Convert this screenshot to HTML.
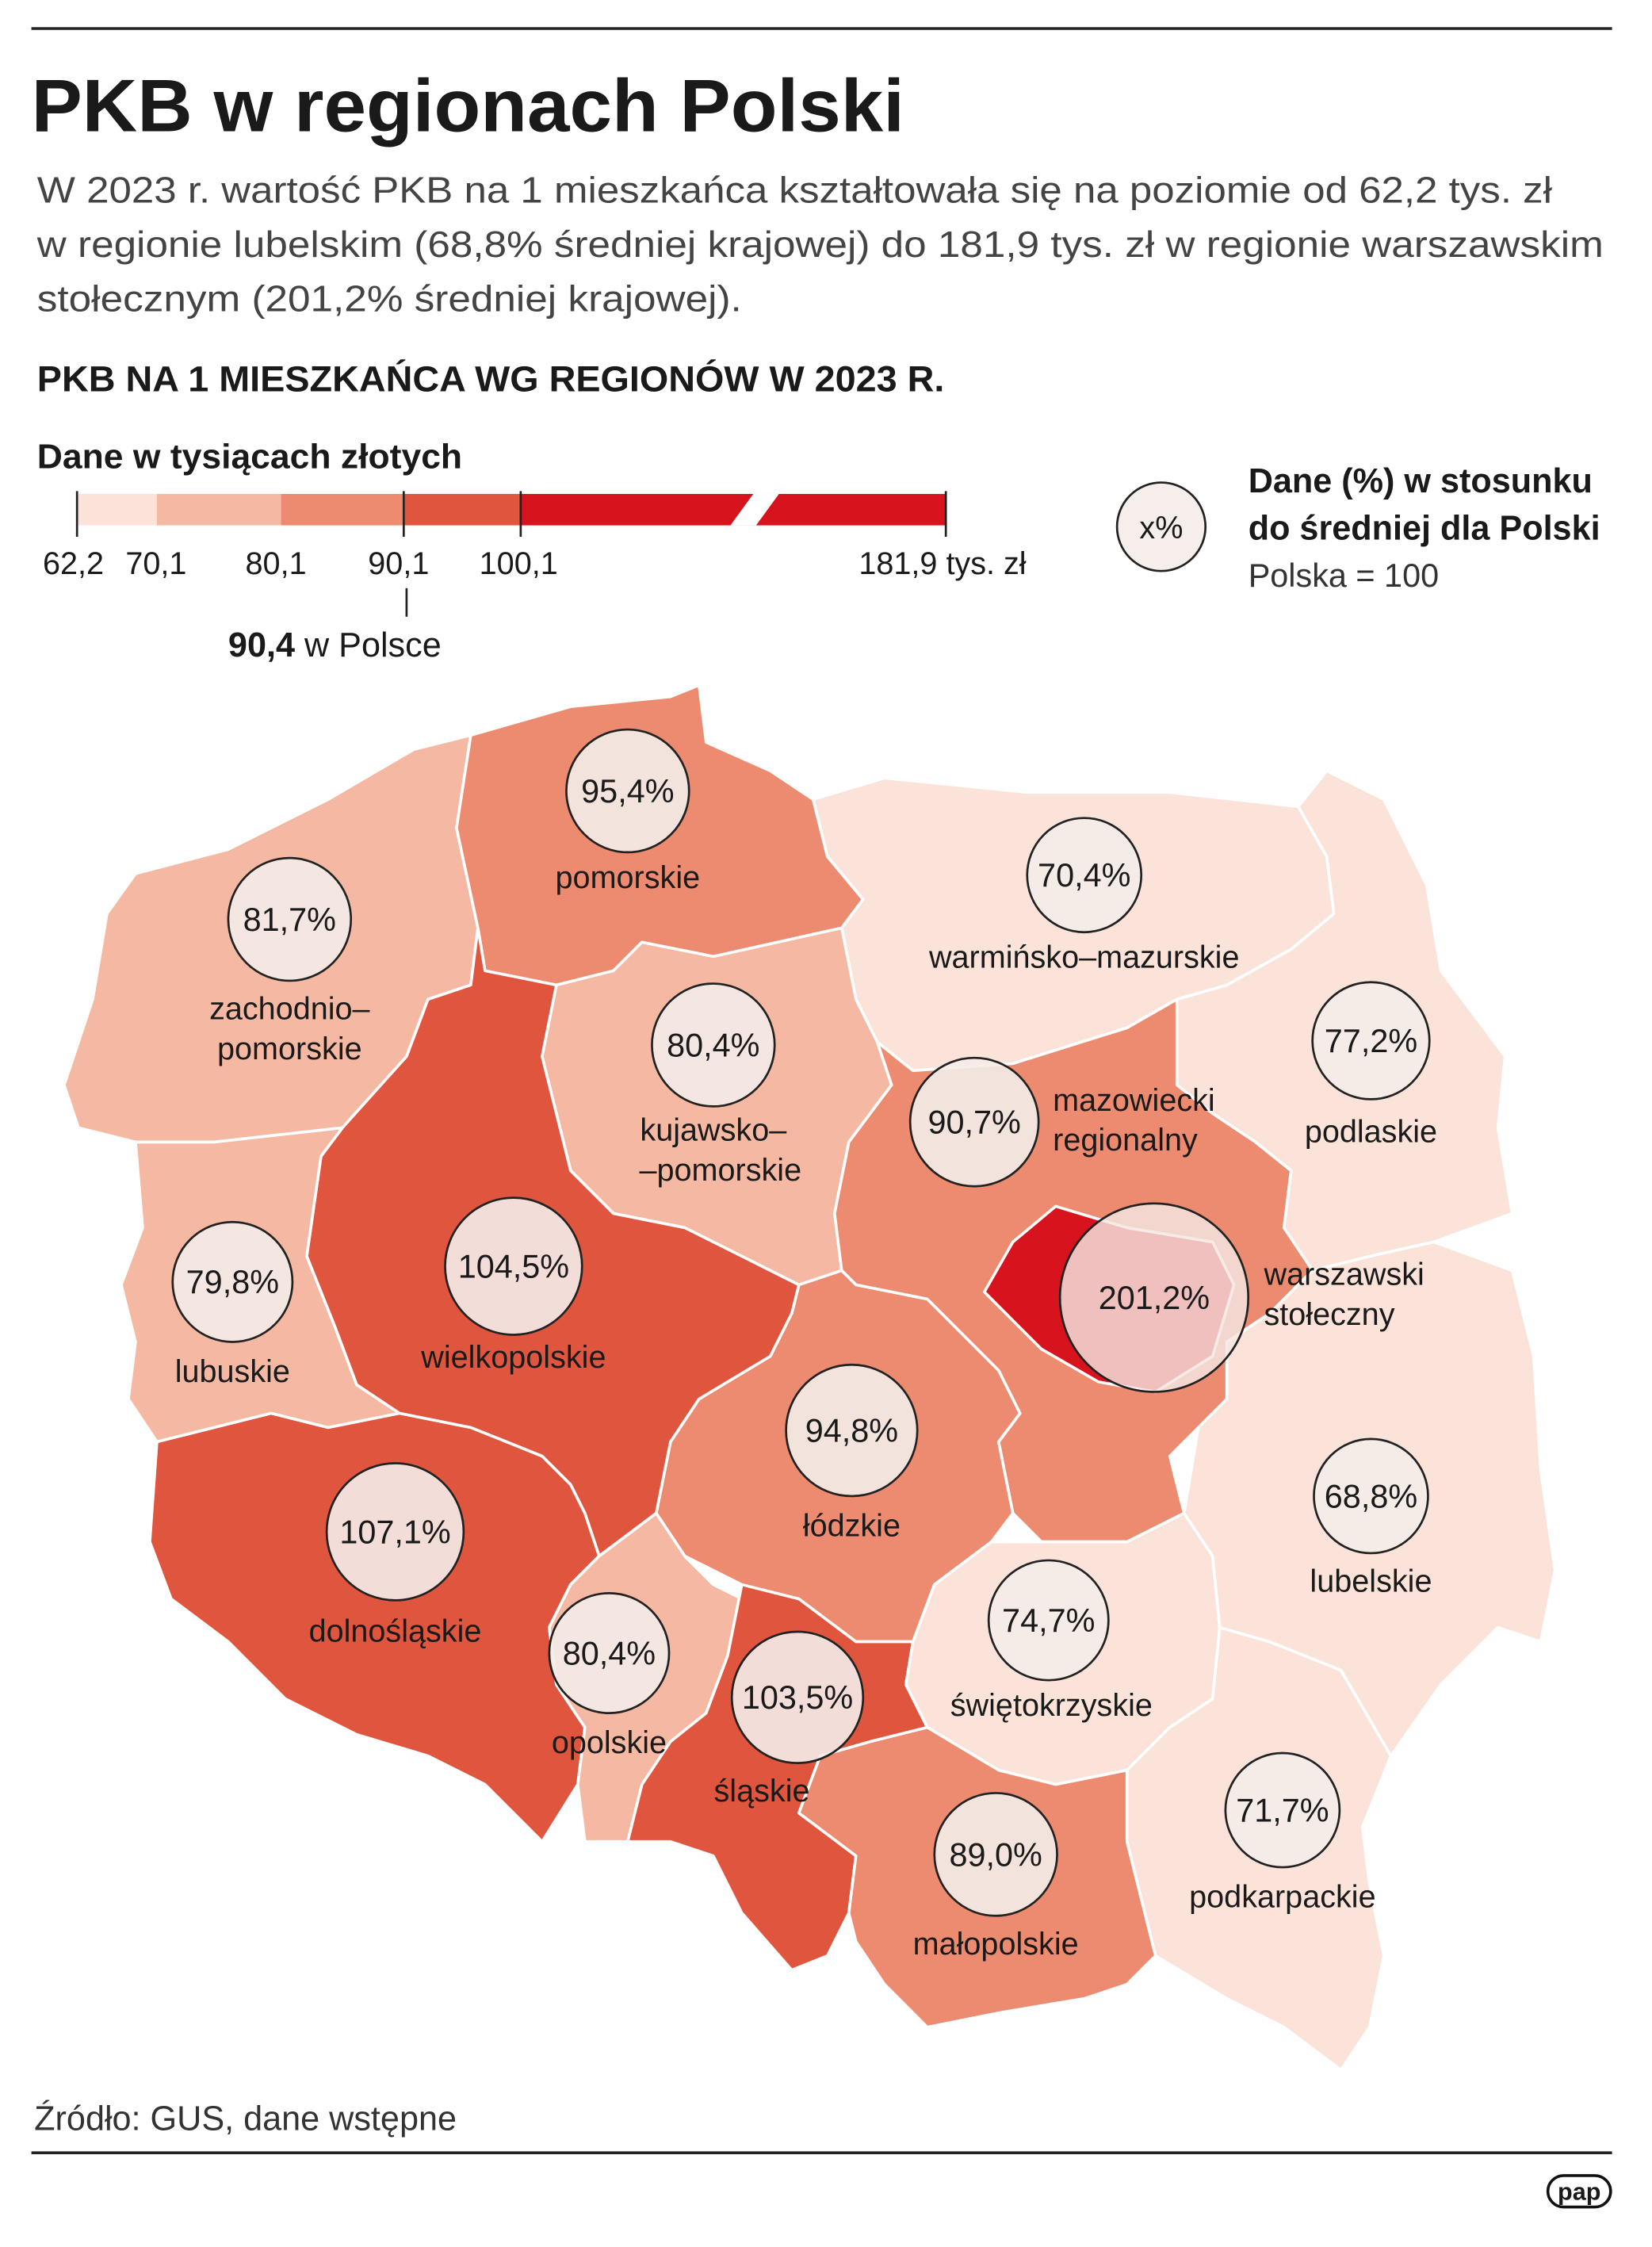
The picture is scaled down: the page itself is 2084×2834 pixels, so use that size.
<!DOCTYPE html>
<html><head><meta charset="utf-8"><style>
html,body{margin:0;padding:0;background:#fff}
svg{display:block}
text{font-family:"Liberation Sans",sans-serif;fill:#1a1a1a}
.r{stroke:#fff;stroke-width:2;stroke-linejoin:round}
.c{fill:rgba(244,236,233,0.9);stroke:#222;stroke-width:1.5}
.p{font-size:23px;text-anchor:middle}
.n{font-size:22px;text-anchor:middle}
</style></head><body>
<svg width="2084" height="2834" viewBox="0 0 1158 1574" preserveAspectRatio="none" xmlns="http://www.w3.org/2000/svg">
<rect width="1158" height="1574" fill="#fff"/>
<line x1="22" y1="20" x2="1130" y2="20" stroke="#222" stroke-width="2"/>
<text x="22" y="92" font-size="52" font-weight="bold" textLength="612" lengthAdjust="spacingAndGlyphs">PKB w regionach Polski</text>
<text x="26" y="142" font-size="26" textLength="1062" lengthAdjust="spacingAndGlyphs" style="fill:#444">W 2023 r. wartość PKB na 1 mieszkańca kształtowała się na poziomie od 62,2 tys. zł</text>
<text x="26" y="180" font-size="26" textLength="1098" lengthAdjust="spacingAndGlyphs" style="fill:#444">w regionie lubelskim (68,8% średniej krajowej) do 181,9 tys. zł w regionie warszawskim</text>
<text x="26" y="218" font-size="26" textLength="494" lengthAdjust="spacingAndGlyphs" style="fill:#444">stołecznym (201,2% średniej krajowej).</text>
<text x="26" y="274" font-size="25" font-weight="bold" textLength="636" lengthAdjust="spacingAndGlyphs">PKB NA 1 MIESZKAŃCA WG REGIONÓW W 2023 R.</text>
<text x="26" y="328" font-size="24" font-weight="bold" textLength="298" lengthAdjust="spacingAndGlyphs">Dane w tysiącach złotych</text>
<rect x="54" y="346" width="56" height="22" fill="#fbe3da"/>
<rect x="110" y="346" width="87" height="22" fill="#f5b9a3"/>
<rect x="197" y="346" width="86" height="22" fill="#ec8b6f"/>
<rect x="283" y="346" width="82" height="22" fill="#e0553e"/>
<rect x="365" y="346" width="298" height="22" fill="#d7141e"/>
<polygon points="512,368 528,346 546,346 530,368" fill="#fff"/>
<g stroke="#222" stroke-width="1.5">
<line x1="54" y1="344" x2="54" y2="376"/><line x1="283" y1="344" x2="283" y2="376"/><line x1="365" y1="344" x2="365" y2="376"/><line x1="663" y1="344" x2="663" y2="376"/><line x1="285" y1="412" x2="285" y2="432"/>
</g>
<g font-size="22" style="fill:#333">
<text x="30" y="402">62,2</text><text x="88" y="402">70,1</text><text x="172" y="402">80,1</text><text x="258" y="402">90,1</text><text x="336" y="402">100,1</text><text x="602" y="402">181,9 tys. zł</text>
</g>
<text x="160" y="460" font-size="24"><tspan font-weight="bold">90,4</tspan><tspan> w Polsce</tspan></text>
<circle cx="814" cy="369" r="31" class="c"/>
<text x="814" y="377" class="n">x%</text>
<text x="875" y="345" font-size="24" font-weight="bold">Dane (%) w stosunku</text>
<text x="875" y="378" font-size="24" font-weight="bold">do średniej dla Polski</text>
<text x="875" y="411" font-size="23" style="fill:#333">Polska = 100</text>
<g class="r">
<polygon fill="#f5b9a3" points="95,612 160,595 230,560 290,525 330,515 320,580 335,650 330,690 300,700 285,740 240,790 150,800 95,800 55,790 45,760 65,700 75,640"/>
<polygon fill="#ec8b6f" points="330,515 400,495 470,488 490,480 495,520 540,540 570,560 580,600 605,630 590,650 545,660 500,670 450,660 430,680 390,690 340,680 335,650 320,580"/>
<polygon fill="#fbe3da" points="570,560 620,545 720,555 820,555 910,565 930,600 935,640 905,665 860,690 825,700 790,720 710,745 640,750 615,730 600,700 590,650 605,630 580,600"/>
<polygon fill="#fbe3da" points="910,565 930,540 970,560 1000,620 1010,680 1055,740 1050,790 1060,850 1005,870 960,880 920,890 900,860 905,820 880,800 850,780 825,760 825,700 860,690 905,665 935,640 930,600"/>
<polygon fill="#f5b9a3" points="390,690 430,680 450,660 500,670 545,660 590,650 600,700 615,730 625,760 595,800 585,850 590,890 560,900 520,880 480,860 430,850 400,820 385,760 380,740"/>
<polygon fill="#ec8b6f" points="615,730 640,750 710,745 790,720 825,700 825,760 850,780 880,800 905,820 900,860 920,890 890,920 860,940 860,980 840,1000 820,1020 830,1060 790,1080 730,1080 710,1060 700,1010 715,990 700,960 680,940 650,910 600,900 590,890 585,850 595,800 625,760"/>
<polygon fill="#ec8b6f" points="590,890 600,900 650,910 680,940 700,960 715,990 700,1010 710,1060 695,1080 655,1110 640,1150 600,1150 560,1120 520,1110 480,1090 460,1060 470,1010 490,980 540,950 555,920 560,900"/>
<polygon fill="#e0553e" points="300,700 330,690 335,650 340,680 390,690 380,740 385,760 400,820 430,850 480,860 520,880 560,900 555,920 540,950 490,980 470,1010 460,1060 420,1090 410,1060 400,1040 380,1020 330,1000 280,990 250,970 235,930 215,880 225,810 240,790 285,740"/>
<polygon fill="#f5b9a3" points="95,800 150,800 240,790 225,810 215,880 235,930 250,970 280,990 230,1000 190,990 150,1000 110,1010 90,980 95,940 85,900 100,860"/>
<polygon fill="#e0553e" points="110,1010 150,1000 190,990 230,1000 280,990 330,1000 380,1020 400,1040 410,1060 420,1090 400,1110 385,1140 390,1180 410,1210 405,1250 380,1290 340,1250 300,1230 250,1215 200,1190 160,1150 120,1120 105,1080"/>
<polygon fill="#f5b9a3" points="400,1110 420,1090 460,1060 480,1090 500,1110 520,1120 510,1160 495,1200 470,1220 450,1250 440,1290 410,1290 405,1250 410,1210 390,1180 385,1140"/>
<polygon fill="#e0553e" points="520,1110 560,1120 600,1150 640,1150 635,1180 650,1210 610,1220 575,1230 560,1270 600,1300 595,1340 580,1370 555,1380 520,1340 500,1300 470,1290 440,1290 450,1250 470,1220 495,1200 510,1160"/>
<polygon fill="#fbe3da" points="640,1150 655,1110 695,1080 730,1080 790,1080 830,1060 850,1090 855,1140 850,1190 820,1210 790,1240 740,1250 700,1240 650,1210 635,1180"/>
<polygon fill="#ec8b6f" points="575,1230 610,1220 650,1210 700,1240 740,1250 790,1240 790,1290 800,1330 810,1370 790,1390 760,1400 700,1410 650,1420 620,1390 600,1360 595,1340 600,1300 560,1270"/>
<polygon fill="#fbe3da" points="790,1240 820,1210 850,1190 855,1140 890,1150 940,1170 975,1230 955,1280 960,1320 970,1370 960,1420 940,1450 900,1420 860,1400 810,1370 800,1330 790,1290"/>
<polygon fill="#fbe3da" points="830,1060 840,1000 860,980 860,940 890,920 920,890 960,880 1005,870 1060,890 1075,950 1080,1030 1090,1100 1080,1150 1050,1140 1010,1180 975,1230 940,1170 890,1150 855,1140 850,1090"/>
<polygon fill="#d7141e" points="690,905 710,870 740,845 790,860 850,870 865,900 850,950 810,975 770,968 730,945 710,925"/>
</g>
<circle cx="440" cy="554" r="43" class="c"/><text x="440" y="562" class="p">95,4%</text><text x="440" y="622" class="n">pomorskie</text>
<circle cx="203" cy="644" r="43" class="c"/><text x="203" y="652" class="p">81,7%</text><text x="203" y="714" class="n">zachodnio–</text><text x="203" y="742" class="n">pomorskie</text>
<circle cx="760" cy="613" r="40" class="c"/><text x="760" y="621" class="p">70,4%</text><text x="760" y="678" class="n">warmińsko–mazurskie</text>
<circle cx="961" cy="729" r="41" class="c"/><text x="961" y="737" class="p">77,2%</text><text x="961" y="800" class="n">podlaskie</text>
<circle cx="500" cy="732" r="43" class="c"/><text x="500" y="740" class="p">80,4%</text><text x="500" y="799" class="n">kujawsko–</text><text x="505" y="827" class="n">–pomorskie</text>
<circle cx="683" cy="786" r="45" class="c"/><text x="683" y="794" class="p">90,7%</text><text x="738" y="778" font-size="22">mazowiecki</text><text x="738" y="806" font-size="22">regionalny</text>
<circle cx="360" cy="887" r="48" class="c"/><text x="360" y="895" class="p">104,5%</text><text x="360" y="958" class="n">wielkopolskie</text>
<circle cx="163" cy="898" r="42" class="c"/><text x="163" y="906" class="p">79,8%</text><text x="163" y="968" class="n">lubuskie</text>
<circle cx="809" cy="909" r="66" fill="rgba(244,230,226,0.82)" stroke="#222" stroke-width="1.5"/><text x="809" y="917" class="p">201,2%</text><text x="886" y="900" font-size="22">warszawski</text><text x="886" y="928" font-size="22">stołeczny</text>
<circle cx="597" cy="1002" r="46" class="c"/><text x="597" y="1010" class="p">94,8%</text><text x="597" y="1076" class="n">łódzkie</text>
<circle cx="961" cy="1048" r="40" class="c"/><text x="961" y="1056" class="p">68,8%</text><text x="961" y="1115" class="n">lubelskie</text>
<circle cx="277" cy="1073" r="48" class="c"/><text x="277" y="1081" class="p">107,1%</text><text x="277" y="1150" class="n">dolnośląskie</text>
<circle cx="427" cy="1158" r="42" class="c"/><text x="427" y="1166" class="p">80,4%</text><text x="427" y="1228" class="n">opolskie</text>
<circle cx="735" cy="1135" r="42" class="c"/><text x="735" y="1143" class="p">74,7%</text><text x="737" y="1202" class="n">świętokrzyskie</text>
<circle cx="559" cy="1189" r="46" class="c"/><text x="559" y="1197" class="p">103,5%</text><text x="534" y="1262" class="n">śląskie</text>
<circle cx="899" cy="1268" r="40" class="c"/><text x="899" y="1276" class="p">71,7%</text><text x="899" y="1336" class="n">podkarpackie</text>
<circle cx="698" cy="1299" r="43" class="c"/><text x="698" y="1307" class="p">89,0%</text><text x="698" y="1369" class="n">małopolskie</text>
<text x="24" y="1492" font-size="24" style="fill:#333">Źródło: GUS, dane wstępne</text>
<line x1="22" y1="1508" x2="1130" y2="1508" stroke="#222" stroke-width="2"/>
<rect x="1085" y="1524" width="44" height="22" rx="11" fill="#fff" stroke="#111" stroke-width="2"/>
<text x="1107" y="1541" font-size="17" font-weight="bold" text-anchor="middle">pap</text>
</svg>
</body></html>
